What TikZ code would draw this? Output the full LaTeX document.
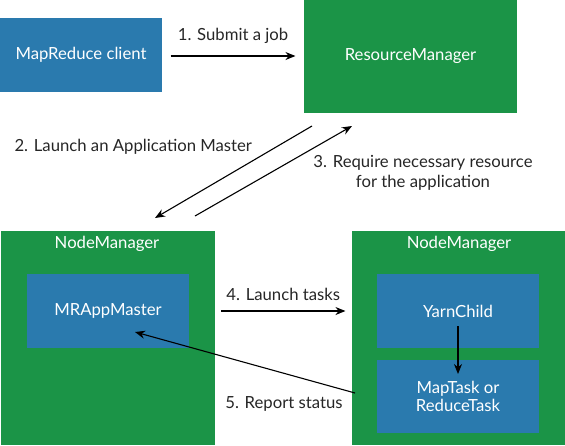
\documentclass[tikz,border=0pt]{standalone}
\usepackage{fontspec}
\setmainfont{Lato}
\usetikzlibrary{positioning,arrows.meta}
\definecolor{yblue}{HTML}{2A7AAE}
\definecolor{ygreen}{HTML}{1B9447}

\begin{document}
\begin{tikzpicture}[%
    x=1pt,
    y=-1pt,
    ->,
    >={Stealth[length=10pt,width=8pt]},
    line width=1.1pt,
    font=\fontsize{16.7}{20}\selectfont,
    task/.style={%
      rectangle,
      fill=yblue,
      text=white,
      align=center,
      minimum width=162pt,
      minimum height=74pt,
      inner sep=0pt
    },
    manager/.style={%
      rectangle,
      fill=ygreen,
      text=white,
      inner sep=0pt
    },
    lbl/.style={%
      text=black!85,
      align=center,
      inner sep=0pt
    }
  ]
    \useasboundingbox (0,0) rectangle (565,445);

    \node[task] (client) at (81,55) {MapReduce client};
    \node[manager, minimum width=213pt, minimum height=113pt] (rm) at (410.5,56.5) {ResourceManager};
    \node[manager, minimum width=214pt, minimum height=214pt] (nmL) at (107.5,338) {};
    \node[manager, minimum width=213pt, minimum height=214pt] (nmR) at (458.5,338) {};
    \node[text=white, inner sep=0pt] (nmLtitle) at (107,244) {NodeManager};
    \node[text=white, inner sep=0pt] (nmRtitle) at (459,244) {NodeManager};
    \node[task] (master) at (108,311) {MRAppMaster};
    \node[task] (child) at (458,311) {YarnChild};
    \node[task, minimum height=73pt, font=\fontsize{16.7}{18.5}\selectfont] (maptask) at (458,396.5) {MapTask or\\ReduceTask};

    % free ends of the links
    \coordinate (launchFrom) at (312,126);
    \coordinate (launchTo) at (155,218);
    \coordinate (requireFrom) at (195,216);
    \coordinate (requireTo) at (352,126);
    \coordinate (reportFrom) at (355,393);
    \coordinate (reportTo) at (135,332);
    \coordinate (childOut) at (458,326);
    \coordinate (mapIn) at (458,374);
    \path (client.east) ++(8,1) coordinate (submitFrom);
    \path (rm.west) ++(-8,-0.5) coordinate (submitTo);
    \path (nmL.east) ++(6,-27) coordinate (tasksFrom);
    \path (nmR.west) ++(-6,-27) coordinate (tasksTo);

    \path (submitFrom) edge node[lbl, above=12pt] {1. Submit a job} (submitTo);

    \path (launchFrom) edge (launchTo)
          (requireFrom) edge (requireTo);
    \node[lbl, anchor=west] (launchLbl) at (14,147) {2. Launch an Application Master};
    \node[lbl] (requireLbl) at (423,173) {3. Require necessary resource\\for the application};

    \path (tasksFrom) edge node[lbl, above=10pt] {4. Launch tasks} (tasksTo);

    \path (childOut) edge (mapIn)
          (reportFrom) edge (reportTo);
    \node[lbl] (reportLbl) at (284,404) {5. Report status};
  \end{tikzpicture}
\end{document}
